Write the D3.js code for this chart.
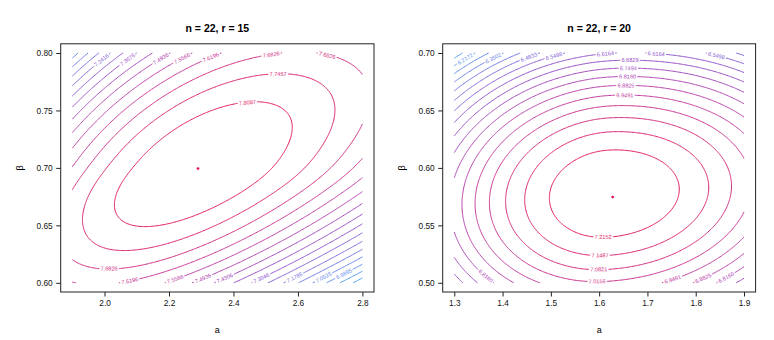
<!DOCTYPE html>
<html>
<head>
<meta charset="utf-8">
<script src="https://cdn.jsdelivr.net/npm/d3@7"></script>
<style>
  body { margin: 0; background: #fff; }
  svg text { font-family: "Liberation Sans", Arial, sans-serif; }
</style>
</head>
<body>
<div id="chart"></div>
<script>
const width = 774;
const height = 340;

// ---- panel 1 : n = 22, r = 15 ----
const levels15 = [7.8087, 7.7457, 7.6826, 7.6196, 7.5566, 7.4936, 7.4306, 7.3676,
                  7.3046, 7.2416, 7.1785, 7.1155, 7.0525, 6.9895, 6.9265, 6.8635];
const aRange15 = [1.9, 2.8];
const bRange15 = [0.6, 0.8];
const aTicks15 = [2.0, 2.2, 2.4, 2.6, 2.8];
const bTicks15 = [0.60, 0.65, 0.70, 0.75, 0.80];
const mle15 = [2.29, 0.6994];
// surface shape: centre, spread below / above the centre
const centre15 = [2.29, 0.699];
const spreadA15 = [0.12, 0.12];      // a on log scale
const spreadB15 = [0.050, 0.0585];
const rho15 = 0.62;
const logA15 = true;
const bend15 = 0.003;

// ---- panel 2 : n = 22, r = 20 ----
const levels20 = [7.2152, 7.1487, 7.0821, 7.0156, 6.9491, 6.8825, 6.8160, 6.7494, 6.6829,
                  6.6164, 6.5498, 6.4833, 6.4168, 6.3502, 6.2837, 6.2172, 6.1506, 6.0841];
const aRange20 = [1.3, 1.9];
const bRange20 = [0.5, 0.7];
const aTicks20 = [1.3, 1.4, 1.5, 1.6, 1.7, 1.8, 1.9];
const bTicks20 = [0.50, 0.55, 0.60, 0.65, 0.70];
const mle20 = [1.628, 0.5746];
const centre20 = [1.6197, 0.5776];
const spreadA20 = [0.1225, 0.146];
const spreadB20 = [0.038, 0.038];
const rho20 = 0.1;
const logA20 = false;
const bend20 = 0.004;

// line colours from lowest level (outside) to highest (centre)
const colorStops = ["#4ea6f7", "#6d7de6", "#934fcb", "#c13aa2", "#e3195d"];

const plotTop = 43.8, plotBottom = 292;

const svg = d3.select("#chart").append("svg")
    .attr("width", width)
    .attr("height", height);

function padRange(r) {
    const d = (r[1] - r[0]) * 0.04;
    return [r[0] - d, r[1] + d];
}

function textWidth(str, size) {
    const t = svg.append("text").style("font-size", size + "px").text(str);
    const w = t.node().getComputedTextLength();
    t.remove();
    return w;
}

// distance from the centre, scaled by a different spread on each side (smooth blend)
function scaled(d, spread) {
    const w = 0.3 * (spread[0] + spread[1]) / 2;
    const s = spread[0] + (spread[1] - spread[0]) * (1 + Math.tanh(d / w)) / 2;
    return d / s;
}

// split the d3.contours rings into the open contour lines (drop the grid border)
function contourLines(contour, nx, ny) {
    const lines = [];
    const onEdge = p => p[0] <= 0 || p[0] >= nx || p[1] <= 0 || p[1] >= ny;
    contour.coordinates.forEach(poly => poly.forEach(ring => {
        const pts = ring.slice(0, -1);
        const start = pts.findIndex(onEdge);
        if (start < 0) { lines.push(ring.slice()); return; }
        let cur = [];
        for (let k = 1; k <= pts.length; k++) {
            const p = pts[(start + k) % pts.length];
            if (onEdge(p)) {
                if (cur.length > 1) lines.push(cur);
                cur = [];
            } else cur.push(p);
        }
    }));
    return lines;
}

function drawPanel(cfg) {
    const x = d3.scaleLinear().domain(padRange(cfg.aRange)).range([cfg.x0, cfg.x1]);
    const y = d3.scaleLinear().domain(padRange(cfg.bRange)).range([plotBottom, plotTop]);
    const g = svg.append("g");

    const levels = cfg.levels;
    const lo = levels[levels.length - 1], hi = levels[0];
    const step = (hi - lo) / (levels.length - 1);
    const top = hi + step;
    const field = (a, b) => {
        const u = scaled(cfg.logA ? Math.log(a / cfg.centre[0]) : a - cfg.centre[0], cfg.spreadA);
        const v = scaled(b - cfg.centre[1], cfg.spreadB);
        const q = (u * u - 2 * cfg.rho * u * v + v * v) / (1 - cfg.rho * cfg.rho);
        return top - step * q / (1 + cfg.bend * q);
    };

    const nx = 241, ny = 241;
    const da = (cfg.aRange[1] - cfg.aRange[0]) / (nx - 1);
    const db = (cfg.bRange[1] - cfg.bRange[0]) / (ny - 1);
    const values = new Float64Array(nx * ny);
    for (let j = 0; j < ny; j++) {
        for (let i = 0; i < nx; i++) {
            values[j * nx + i] = field(cfg.aRange[0] + i * da, cfg.bRange[0] + j * db);
        }
    }
    const contours = d3.contours().size([nx, ny]).thresholds(levels)(values);

    const color = d3.scaleLinear()
        .domain(colorStops.map((c, i) => lo + (hi - lo) * i / (colorStops.length - 1)))
        .range(colorStops);

    const fontSize = 5.6;
    const placed = [];
    const line = d3.line();
    const midY = (plotTop + plotBottom) / 2;

    // lowest level first
    contours.slice().reverse().forEach(c => {
        const label = c.value.toFixed(4);
        const L = textWidth(label, fontSize) + 2.5;
        contourLines(c, nx, ny).forEach(raw => {
            const pts = raw.map(p => [x(cfg.aRange[0] + (p[0] - 0.5) * da),
                                      y(cfg.bRange[0] + (p[1] - 0.5) * db)]);
            const cum = [0];
            for (let k = 1; k < pts.length; k++) {
                cum.push(cum[k - 1] + Math.hypot(pts[k][0] - pts[k - 1][0], pts[k][1] - pts[k - 1][1]));
            }
            const total = cum[cum.length - 1];
            const at = s => {
                let k = d3.bisectRight(cum, s);
                k = Math.min(Math.max(k, 1), pts.length - 1);
                const t = (s - cum[k - 1]) / ((cum[k] - cum[k - 1]) || 1);
                return [pts[k - 1][0] + t * (pts[k][0] - pts[k - 1][0]),
                        pts[k - 1][1] + t * (pts[k][1] - pts[k - 1][1])];
            };

            let best = null;
            for (let s = 1; s + L < total - 1; s += 1) {
                const p1 = at(s), p2 = at(s + L);
                let ang = Math.atan2(p2[1] - p1[1], p2[0] - p1[0]);
                if (ang > Math.PI / 2) ang -= Math.PI;
                if (ang < -Math.PI / 2) ang += Math.PI;
                const len = Math.hypot(p2[0] - p1[0], p2[1] - p1[1]) || 1;
                let dev = 0;
                for (let k = 0; k < pts.length; k++) {
                    if (cum[k] > s && cum[k] < s + L) {
                        const d = Math.abs((p2[0] - p1[0]) * (p1[1] - pts[k][1]) - (p1[0] - pts[k][0]) * (p2[1] - p1[1])) / len;
                        dev = Math.max(dev, d);
                    }
                }
                const cx = (p1[0] + p2[0]) / 2, cy = (p1[1] + p2[1]) / 2;
                const hw = (Math.abs(Math.cos(ang)) * L + Math.abs(Math.sin(ang)) * fontSize) / 2;
                const hh = (Math.abs(Math.sin(ang)) * L + Math.abs(Math.cos(ang)) * fontSize) / 2;
                const box = [cx - hw, cy - hh, cx + hw, cy + hh];
                if (box[0] < cfg.x0 || box[2] > cfg.x1 || box[1] < plotTop || box[3] > plotBottom) continue;
                // labelSide +1 favours the upper side of a closed contour, -1 the lower side
                const score = Math.abs(ang) + 0.6 * dev + cfg.labelSide * 0.15 * (cy - midY) / 124;
                if (!best || score < best.score) best = { s, p1, p2, ang, box, score, cx, cy };
            }
            const clash = b => placed.some(o => b[0] < o[2] && b[2] > o[0] && b[1] < o[3] && b[3] > o[1]);

            let parts = [pts];
            if (best && !clash(best.box)) {
                placed.push(best.box);
                const before = pts.filter((p, k) => cum[k] < best.s).concat([best.p1]);
                const after = [best.p2].concat(pts.filter((p, k) => cum[k] > best.s + L));
                parts = [before, after];
                g.append("text")
                    .attr("transform", `translate(${best.cx},${best.cy}) rotate(${best.ang * 180 / Math.PI})`)
                    .attr("text-anchor", "middle")
                    .attr("dy", "0.35em")
                    .style("font-size", fontSize + "px")
                    .attr("fill", color(c.value))
                    .text(label);
            }
            parts.forEach(part => {
                if (part.length < 2) return;
                g.append("path")
                    .attr("d", line(part))
                    .attr("fill", "none")
                    .attr("stroke", color(c.value))
                    .attr("stroke-width", 1);
            });
        });
    });

    // maximum likelihood point
    g.append("circle")
        .attr("cx", x(cfg.mle[0]))
        .attr("cy", y(cfg.mle[1]))
        .attr("r", 1.4)
        .attr("fill", colorStops[colorStops.length - 1]);

    // axes
    const xAxis = g.append("g")
        .attr("transform", `translate(0,${plotBottom})`)
        .call(d3.axisBottom(x).tickValues(cfg.aTicks).tickFormat(d3.format(".1f"))
            .tickSize(4.5).tickPadding(3.5));
    const yAxis = g.append("g")
        .attr("transform", `translate(${cfg.x0},0)`)
        .call(d3.axisLeft(y).tickValues(cfg.bTicks).tickFormat(d3.format(".2f"))
            .tickSize(4.5).tickPadding(3.5));
    [xAxis, yAxis].forEach(ax => {
        ax.select(".domain").remove();
        ax.selectAll(".tick line").attr("stroke", "#222");
        ax.selectAll(".tick text").style("font-size", "8.3px").attr("fill", "#111")
            .style("font-family", "'Liberation Sans', Arial, sans-serif");
    });

    g.append("rect")
        .attr("x", cfg.x0)
        .attr("y", plotTop)
        .attr("width", cfg.x1 - cfg.x0)
        .attr("height", plotBottom - plotTop)
        .attr("fill", "none")
        .attr("stroke", "#222")
        .attr("stroke-width", 1);

    g.append("text")
        .attr("x", (cfg.x0 + cfg.x1) / 2)
        .attr("y", 32)
        .attr("text-anchor", "middle")
        .style("font-size", "10.5px")
        .style("font-weight", "bold")
        .text(cfg.title);

    g.append("text")
        .attr("x", (cfg.x0 + cfg.x1) / 2)
        .attr("y", 333)
        .attr("text-anchor", "middle")
        .style("font-size", "9px")
        .text("a");

    g.append("text")
        .attr("transform", `translate(${cfg.x0 - 38},${midY}) rotate(-90)`)
        .attr("text-anchor", "middle")
        .style("font-size", "9px")
        .text("β");
}

drawPanel({
    title: "n = 22, r = 15", x0: 60.7, x1: 374, labelSide: 1,
    levels: levels15, aRange: aRange15, bRange: bRange15, aTicks: aTicks15, bTicks: bTicks15,
    mle: mle15, centre: centre15, spreadA: spreadA15, spreadB: spreadB15, rho: rho15,
    logA: logA15, bend: bend15
});

drawPanel({
    title: "n = 22, r = 20", x0: 442.7, x1: 755.6, labelSide: -1,
    levels: levels20, aRange: aRange20, bRange: bRange20, aTicks: aTicks20, bTicks: bTicks20,
    mle: mle20, centre: centre20, spreadA: spreadA20, spreadB: spreadB20, rho: rho20,
    logA: logA20, bend: bend20
});
</script>
</body>
</html>
